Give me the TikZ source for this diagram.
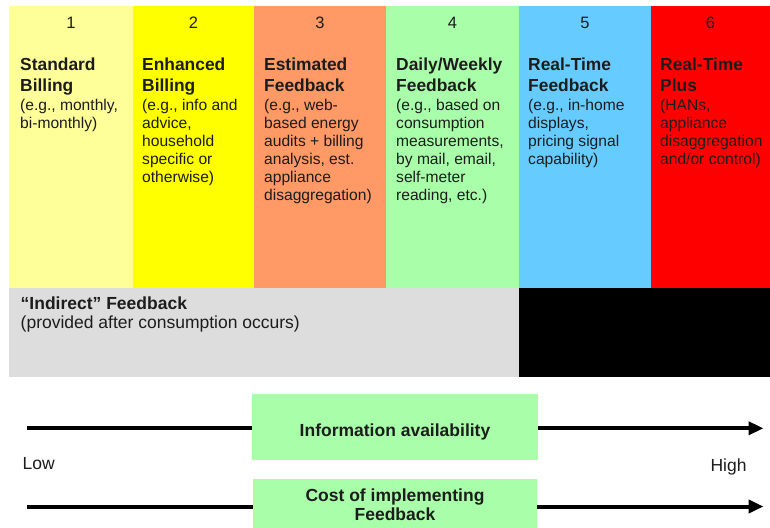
\documentclass[tikz,border=0pt]{standalone}
\usepackage{fontspec}
\setmainfont{Liberation Sans}
\usetikzlibrary{arrows.meta}
\definecolor{cA}{HTML}{FFFF99}
\definecolor{cB}{HTML}{FFFF00}
\definecolor{cC}{HTML}{FF9966}
\definecolor{cD}{HTML}{A9FFA9}
\definecolor{cE}{HTML}{66CCFF}
\definecolor{cF}{HTML}{FF0000}
\definecolor{cG}{HTML}{DDDDDD}
\definecolor{txt}{HTML}{1C1C1C}
\tikzset{
  colbox/.style={draw=none, inner sep=0pt, anchor=north west, minimum height=282pt},
  bandbox/.style={draw=none, inner sep=0pt, anchor=north west, minimum height=89pt},
  numtxt/.style={inner sep=0pt, anchor=base, text=txt, font=\fontsize{16.5}{19}\selectfont},
  ttltxt/.style={inner sep=0pt, anchor=north west, align=left, text=txt, font=\bfseries\fontsize{17.4}{21}\selectfont},
  desctxt/.style={inner sep=0pt, anchor=north west, align=left, text=txt, font=\fontsize{15.6}{18}\selectfont},
  bigbold/.style={inner sep=0pt, text=txt, font=\bfseries\fontsize{17.5}{19.5}\selectfont},
  bigreg/.style={inner sep=0pt, text=txt, font=\fontsize{17.5}{19.5}\selectfont},
  gbox/.style={draw=none, fill=cD, inner sep=0pt, anchor=north west},
  axisline/.style={line width=4pt, black},
  axistip/.style={-{Triangle[length=15pt,width=13pt]}}
}
\begin{document}
\begin{tikzpicture}[x=1pt,y=-1pt]
\clip (0,0) rectangle (770,527);
\fill[white] (0,0) rectangle (770,527);
% columns
\node[colbox, fill=cA, minimum width=124pt] (col1) at (9,6) {};
\node[colbox, fill=cB, minimum width=121pt] (col2) at (133,6) {};
\node[colbox, fill=cC, minimum width=132pt] (col3) at (254,6) {};
\node[colbox, fill=cD, minimum width=133pt] (col4) at (386,6) {};
\node[colbox, fill=cE, minimum width=132pt] (col5) at (519,6) {};
\node[colbox, fill=cF, minimum width=121pt] (col6) at (651,6) {};
% band
\node[bandbox, fill=cG, minimum width=510pt] (indirect) at (9,288) {};
\node[bandbox, fill=black, minimum width=253pt] (direct) at (519,288) {};
% numbers
\node[numtxt] (n1) at (71,28.3) {1};
\node[numtxt] (n2) at (193.5,28.3) {2};
\node[numtxt] (n3) at (320,28.3) {3};
\node[numtxt] (n4) at (452.5,28.3) {4};
\node[numtxt] (n5) at (585,28.3) {5};
\node[numtxt] (n6) at (710.5,28.3) {6};
% titles
\node[ttltxt] (t1) at (20,57.5) {Standard\\Billing};
\node[ttltxt] (t2) at (142,57.5) {Enhanced\\Billing};
\node[ttltxt] (t3) at (264,57.5) {Estimated\\Feedback};
\node[ttltxt] (t4) at (396,57.5) {Daily/Weekly\\Feedback};
\node[ttltxt] (t5) at (528,57.5) {Real-Time\\Feedback};
\node[ttltxt] (t6) at (660,57.5) {Real-Time\\Plus};
% descriptions
\node[desctxt] (d1) at (20,98.8) {(e.g., monthly,\\bi-monthly)};
\node[desctxt] (d2) at (142,98.8) {(e.g., info and\\advice,\\household\\specific or\\otherwise)};
\node[desctxt] (d3) at (264,98.8) {(e.g., web-\\based energy\\audits + billing\\analysis, est.\\appliance\\disaggregation)};
\node[desctxt] (d4) at (396,98.8) {(e.g., based on\\consumption\\measurements,\\by mail, email,\\self-meter\\reading, etc.)};
\node[desctxt] (d5) at (528,98.8) {(e.g., in-home\\displays,\\pricing signal\\capability)};
\node[desctxt] (d6) at (660,98.8) {(HANs,\\appliance\\disaggregation\\and/or control)};
% band text
\node[bigbold, anchor=base west] (it1) at (20.5,309) {“Indirect” Feedback};
\node[bigreg, anchor=base west] (it2) at (20.5,328) {(provided after consumption occurs)};
% bottom boxes
\node[gbox, minimum width=286pt, minimum height=66pt] (info) at (252,393.3) {};
\node[gbox, minimum width=284pt, minimum height=50pt] (cost) at (253,479) {};
\node[bigbold, anchor=base] (infolab) at (395,436.7) {Information availability};
\node[bigbold, anchor=north, align=center] (costlab) at (395,488.4) {Cost of implementing\\Feedback};
% axes
\coordinate (a1s) at (27,428.3);
\coordinate (a1e) at (763.5,428.3);
\coordinate (a2s) at (27,506.5);
\coordinate (a2e) at (763.5,506.5);
\draw[axisline] (a1s) -- (a1s -| info.west);
\draw[axisline, axistip] (a1e -| info.east) -- (a1e);
\draw[axisline] (a2s) -- (a2s -| cost.west);
\draw[axisline, axistip] (a2e -| cost.east) -- (a2e);
\node[bigreg, anchor=base west] (low) at (22.5,469.3) {Low};
\node[bigreg, anchor=base east] (high) at (746.7,471.5) {High};
\end{tikzpicture}
\end{document}
